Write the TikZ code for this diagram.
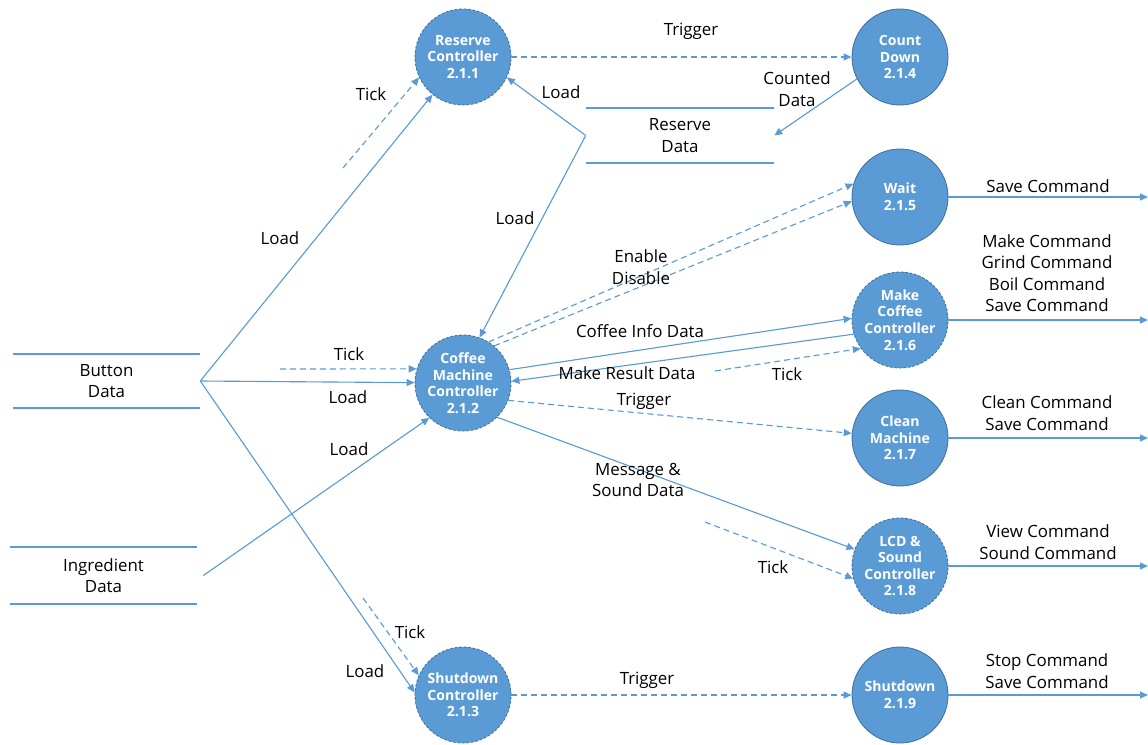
\documentclass[tikz,border=0pt]{standalone}
\usepackage{fontspec}
\setmainfont{Open Sans}
\usetikzlibrary{arrows.meta}

\definecolor{dfdblue}{HTML}{5B9BD5}
\definecolor{dfdedge}{HTML}{41719C}

\begin{document}
\begin{tikzpicture}[x=0.025cm,y=-0.025cm,
  proc/.style={circle,fill=dfdblue,draw=dfdedge,line width=0.6pt,minimum size=2.4cm,inner sep=0pt,
    align=center,text=white,font=\fontsize{10}{11.8}\selectfont\bfseries},
  ctrl/.style={proc,dash pattern=on 2pt off 1.2pt},
  store/.style={minimum width=4.675cm,minimum height=1.35cm,inner sep=0pt,align=center,
    font=\fontsize{12}{15.3}\selectfont},
  storeline/.style={dfdblue,line width=1.6pt},
  lbl/.style={inner sep=0pt,align=center,font=\fontsize{12}{15.3}\selectfont},
  flow/.style={dfdblue,line width=0.8pt,-{Triangle[length=5.7pt,width=5pt]}},
  ctlflow/.style={flow,dash pattern=on 4.3pt off 2.8pt}
]
\useasboundingbox (0,0) rectangle (1148,744);

\node[ctrl] (res) at (463,57) {Reserve\\Controller\\2.1.1};
\node[ctrl] (cm) at (463,383) {Coffee\\Machine\\Controller\\2.1.2};
\node[ctrl] (sd) at (463,695) {Shutdown\\Controller\\2.1.3};
\node[proc] (cnt) at (900,57) {Count\\Down\\2.1.4};
\node[proc] (wait) at (900,197) {Wait\\2.1.5};
\node[ctrl] (make) at (900,320) {Make\\Coffee\\Controller\\2.1.6};
\node[proc] (clean) at (900,438) {Clean\\Machine\\2.1.7};
\node[ctrl] (lcd) at (900,566) {LCD \&\\Sound\\Controller\\2.1.8};
\node[proc] (shut) at (900,695) {Shutdown\\2.1.9};

\node[store] (btn) at (106.5,381) {Button\\Data};
\node[store,minimum height=1.425cm] (ing) at (103.5,575.5) {Ingredient\\Data};
\node[store,minimum width=4.7cm,minimum height=1.375cm] (rsv) at (680,135.5) {Reserve\\Data};
\draw[storeline] (btn.north west) -- (btn.north east) (btn.south west) -- (btn.south east);
\draw[storeline] (ing.north west) -- (ing.north east) (ing.south west) -- (ing.south east);
\draw[storeline] (rsv.north west) -- (rsv.north east) (rsv.south west) -- (rsv.south east);

\coordinate (tkres) at (343,168);
\coordinate (tkcm) at (280,369);
\coordinate (tksd) at (363,598);
\coordinate (tkmk) at (715,371);
\coordinate (tklcd) at (705,522);
\coordinate (owait) at (1148,197);
\coordinate (omake) at (1148,320);
\coordinate (oclean) at (1148,438);
\coordinate (olcd) at (1148,566);
\coordinate (oshut) at (1148,695);

\draw[flow] (btn.east) -- (res);
\draw[flow] (btn.east) -- (cm);
\draw[flow] (btn.east) -- (sd.177);
\draw[flow] ([xshift=0.15cm]ing.east) -- (cm.226);
\draw[flow] (rsv.west) -- (res.335);
\draw[flow] (rsv.west) -- (cm.70);
\draw[flow] (cnt.207) -- (rsv.east);
\draw[ctlflow] (res) -- (cnt);
\draw[ctlflow] (tkres) -- (res.205);
\draw[ctlflow] (tkcm) -- (cm.163);
\draw[ctlflow] (tksd) -- (sd.156);
\draw[ctlflow] (cm.58) -- (wait.164);
\draw[ctlflow] (cm.50) -- (wait.185);
\draw[flow] (cm.16) -- (make.178);
\draw[flow] (make.197) -- (cm.2);
\draw[ctlflow] (tkmk) -- (make.216);
\draw[ctlflow] (cm.339) -- (clean);
\draw[flow] (cm.315) -- (lcd);
\draw[ctlflow] (tklcd) -- (lcd.195);
\draw[ctlflow] (sd) -- (shut);
\draw[flow] (wait) -- (owait);
\draw[flow] (make) -- (omake);
\draw[flow] (clean) -- (oclean);
\draw[flow] (lcd) -- (olcd);
\draw[flow] (shut) -- (oshut);

\node[lbl] (ltkres) at (371,94) {Tick};
\node[lbl] (lldres) at (280,238) {Load};
\node[lbl] (lldrs1) at (561,92) {Load};
\node[lbl] (lldrs2) at (515,218) {Load};
\node[lbl] (ltrgcnt) at (691,31) {Trigger};
\node[lbl] (lcnted) at (797,89) {Counted\\Data};
\node[lbl] (lenable) at (641,267) {Enable\\Disable};
\node[lbl] (linfo) at (640,331) {Coffee Info Data};
\node[lbl] (lresult) at (627,373) {Make Result Data};
\node[lbl] (ltkmk) at (787,374) {Tick};
\node[lbl] (ltrgcl) at (644,401) {Trigger};
\node[lbl] (lmsg) at (638,480) {Message \&\\Sound Data};
\node[lbl] (ltklcd) at (773,567) {Tick};
\node[lbl] (ltkcm) at (349,354) {Tick};
\node[lbl] (lldcm) at (348,397) {Load};
\node[lbl] (lldig) at (349,449) {Load};
\node[lbl] (ltksd) at (410,632) {Tick};
\node[lbl] (lldsd) at (365,671) {Load};
\node[lbl] (ltrgsd) at (647,680) {Trigger};
\node[lbl] (lowait) at (1048,186) {Save Command};
\node[lbl] (lomake) at (1047,273) {Make Command\\Grind Command\\Boil Command\\Save Command};
\node[lbl] (loclean) at (1047,413) {Clean Command\\Save Command};
\node[lbl] (lolcd) at (1048,542) {View Command\\Sound Command};
\node[lbl] (loshut) at (1047,671) {Stop Command\\Save Command};
\end{tikzpicture}
\end{document}
